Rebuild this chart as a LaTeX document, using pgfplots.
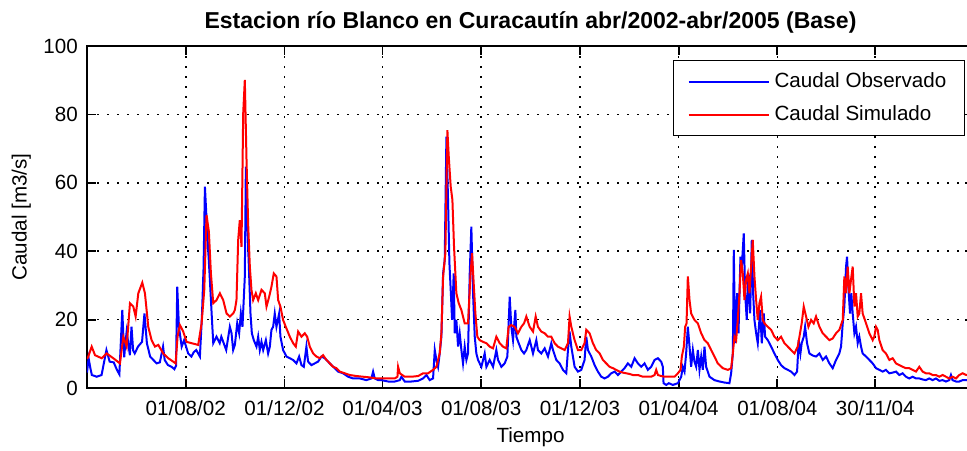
\documentclass[border=0pt]{standalone}
\usepackage{fontspec}
\setmainfont{Liberation Sans}
\usepackage{pgfplots}
\pgfplotsset{compat=1.18}
\newcommand{\lblfont}{\fontsize{10.3}{12}\selectfont}
\begin{document}
\begin{tikzpicture}
\begin{axis}[
  at={(0,0)}, anchor=south west,
  scale only axis,
  width=443.5pt, height=171pt,
  xmin=0, xmax=1096, ymin=0, ymax=100,
  xtick={122,244,365,487,609,731,853,974},
  xticklabels={01/08/02,01/12/02,01/04/03,01/08/03,01/12/03,01/04/04,01/08/04,30/11/04},
  ytick={0,20,40,60,80,100},
  /pgf/number format/assume math mode=true,
  tick label style={font=\lblfont},
  xticklabel style={yshift=-3pt},
  yticklabel style={xshift=-1.1pt},
  grid=major,
  major grid style={black, line width=0.85pt, dash pattern=on 0.85pt off 4.15pt},
  tick align=inside,
  major tick length=4.5pt,
  axis line style={black, line width=0.9pt},
  every tick/.style={black, line width=0.9pt},
  title={Estacion río Blanco en Curacautín abr/2002-abr/2005 (Base)},
  title style={at={(axis description cs:0.5,1.0702)}, anchor=center, yshift=-6pt, font=\bfseries\fontsize{11.5}{13}\selectfont},
  xlabel={Tiempo},
  ylabel={Caudal [m3/s]},
  every axis x label/.style={at={(axis description cs:0.5,-0.1433)}, anchor=center, font=\lblfont},
  every axis y label/.style={at={(axis description cs:-0.074,0.5)}, rotate=90, anchor=center, font=\lblfont},
  legend cell align=left,
  legend image code/.code={\draw[#1] (0pt,0pt) -- (40pt,0pt);},
  legend style={at={(0.98985,0.95906)}, anchor=north east, draw=black, line width=0.7pt, fill=white,
    font=\lblfont, inner xsep=7pt, inner ysep=4pt, row sep=3.5pt, column sep=0.5pt,
    nodes={inner sep=2pt, text height=7.5pt, text depth=1.5pt}},
]
\addplot[blue, line width=1pt] coordinates {
(0,4.5)(2,8.7)(4,6.0)(6,3.8)(12,3.3)(18,3.8)(24,11.1)(28,7.7)(33,7.5)(37,5.3)(40,4.0)(43.6,22.8)(46,9.0)(47,12.1)(49,16.5)(53,9.6)(55,17.9)(57,11.0)(59,10.1)(63,12.1)(68,13.5)(71,21.8)(74,13.1)(78,9.2)(82,8.2)(86,7.2)(90,7.5)(94,12.1)(96,8.2)(100,6.7)(104.5,6.2)(108,5.5)(110,6.5)(111.5,29.6)(113.6,17.9)(117,12.1)(120,14.0)(125,10.1)(129,9.2)(132,10.5)(135,11.1)(139.5,9.2)(142,20.9)(144,35)(145.7,58.9)(148.6,45.2)(151.4,33.5)(154,21.8)(156,13.1)(160,15.0)(164,13.1)(166,15.0)(172,11.1)(176.5,17.9)(178.6,16.0)(180.6,11.1)(182.7,12.6)(185.6,18.9)(188,16.0)(190.1,21.8)(192.1,17.9)(195,32.6)(196.3,64.7)(197.9,49.1)(200,35.5)(202,21.8)(203.7,16.0)(206.1,14.0)(209.4,12.1)(211.5,15.0)(213.5,11.1)(215.6,13.5)(217.7,11.1)(221,14.0)(223.8,10.1)(225.9,12.1)(227.9,17.0)(230,17.9)(232,21.8)(234.1,17.9)(237.4,21.8)(239,15.0)(242.3,11.1)(246.5,9.2)(250.6,8.7)(254.7,8.2)(258.8,7.2)(262.1,9.2)(265,6.7)(267.9,6.2)(271.1,12.1)(273.2,7.7)(277.3,6.7)(281.4,7.2)(285.5,7.7)(289.7,9.2)(293.8,8.7)(297.9,7.7)(302,6.7)(306.1,5.8)(310.2,4.8)(316.4,4.3)(322.6,3.3)(328.8,2.8)(337,2.8)(345.2,2.3)(351.4,2.8)(353.5,4.8)(355.5,2.8)(359.6,2.3)(363.8,2.3)(372.1,1.9)(380.3,1.9)(386.5,2.3)(388.5,3.3)(392.6,1.9)(400.9,1.9)(409.1,2.1)(415.3,2.8)(419.4,3.8)(423.5,2.3)(427.6,2.8)(429.7,11.1)(431.7,8.2)(433.8,6.2)(435.8,10.1)(437.9,15.0)(440,33.5)(442,37.4)(444.1,73.5)(446.1,55.0)(447.8,36.5)(449.4,28.7)(451.1,19.9)(453.1,33.5)(454.4,16.0)(456.4,19.9)(458.5,12.1)(460.5,16.0)(462.6,11.1)(464.6,7.2)(466.7,12.1)(468.8,8.2)(470.8,10.1)(472.9,33.5)(474.9,47.2)(477,27.7)(479.1,15.0)(481.1,10.1)(483.2,8.2)(485.2,7.2)(487.3,6.2)(491.4,10.1)(493.5,6.2)(497.6,8.2)(501.7,6.2)(505.8,11.1)(507.9,8.2)(512,6.2)(516.1,7.2)(519.4,9.2)(522.3,26.7)(524.3,17.9)(526.4,14.0)(529.3,22.8)(530.5,15.0)(533.4,13.1)(536.7,11.1)(540,10.1)(542.8,11.1)(547,14.0)(551.1,10.1)(555.2,14.0)(557.2,11.1)(561.3,10.1)(565.5,11.6)(569.6,9.2)(573.7,13.1)(575.8,11.1)(579.9,8.2)(584,7.2)(588.1,5.3)(592.2,4.3)(594.3,11.1)(596.3,16.5)(598.4,12.1)(602.5,6.2)(606.6,4.8)(610.7,5.3)(614.8,8.2)(616.9,15.0)(619,11.1)(623.1,9.2)(627.2,6.7)(631.3,4.8)(635.4,3.3)(639.5,2.8)(643.6,3.3)(647.8,4.3)(651.9,4.8)(656,3.8)(660.1,4.8)(664.2,5.8)(668.3,7.2)(672.5,6.2)(676.6,8.7)(680.7,7.2)(684.8,6.2)(688.9,7.2)(693,5.3)(697.1,6.2)(701.3,8.2)(705.4,8.7)(709.5,7.7)(711.5,6.2)(712.4,1.4)(715.7,0.9)(718.9,1.4)(723.9,0.9)(730.1,1.4)(734.2,3.3)(736.2,6.2)(738.3,4.8)(740.3,10.1)(742.4,17.9)(744.5,12.1)(746.5,6.2)(748.6,11.1)(750.6,7.7)(752.7,6.2)(754.8,11.1)(756.8,5.3)(758.9,9.2)(760.9,5.3)(763,12.1)(765,6.2)(769.2,3.3)(775.3,2.3)(781.5,1.9)(787.7,1.6)(793.8,1.4)(795.9,4.3)(798,10.1)(799.2,40.4)(800.8,13.1)(803.3,27.7)(805,16.0)(807.4,38.4)(809.1,35.5)(811.5,45.2)(813.2,27.7)(815.2,19.9)(817.3,33.5)(819.4,21.8)(821.4,43.3)(823.1,27.7)(824.7,19.9)(826.8,16.0)(828.8,13.1)(831.7,22.8)(833.8,13.1)(836.2,21.8)(837.9,15.0)(841.2,14.0)(845.3,12.1)(849.4,10.1)(853.5,8.2)(857.6,6.7)(861.7,5.8)(865.9,5.3)(870,4.8)(874.1,3.8)(877.4,4.8)(879.4,14.0)(881.5,10.1)(883.1,13.1)(885.6,15.0)(887.3,17.9)(889.7,13.1)(892.6,10.1)(896.7,9.5)(900.8,9.2)(905,10.1)(909.1,8.2)(913.2,9.2)(917.3,7.2)(921.4,5.8)(925.5,8.2)(929.6,10.1)(931.7,12.1)(933.8,18.9)(935.8,23.8)(937.9,35.5)(939.1,38.4)(941.2,27.7)(942.8,21.8)(944.4,27.7)(946.1,21.8)(948.2,16.0)(950.2,17.9)(952.3,13.1)(954.3,15.0)(956.4,12.1)(958.4,10.1)(962.6,9.2)(966.7,8.2)(970.8,7.2)(974.9,5.8)(979,5.3)(983.1,4.8)(987.2,5.3)(991.4,4.3)(995.5,4.5)(999.6,4.8)(1003.7,3.8)(1007.8,4.3)(1011.9,3.3)(1016,2.8)(1020.2,3.3)(1024.3,2.8)(1028.4,2.8)(1032.5,2.5)(1036.6,2.3)(1040.7,2.8)(1044.9,2.3)(1049,2.8)(1053.1,2.1)(1057.2,2.3)(1061.3,1.9)(1065.4,2.3)(1067.5,3.8)(1069.5,2.3)(1073.7,1.9)(1077.8,1.9)(1081.9,2.3)(1086.4,2.3)(1095,2.0)
};
\addlegendentry{Caudal Observado}
\addplot[red, line width=1pt] coordinates {
(0,8.5)(1.6,9.2)(5.8,12.1)(9.9,9.6)(18.1,8.7)(24.3,10.1)(32.5,8.7)(40.7,7.2)(44.9,15.0)(49,12.1)(53.1,24.8)(57.2,23.8)(60.1,20.9)(63.4,27.7)(68.3,30.8)(71.6,27.7)(75.7,17.9)(79.8,14.0)(84,12.1)(88.1,12.6)(94.2,10.1)(100.4,8.7)(106.6,7.7)(109.5,7.2)(111.9,15.0)(114.8,18.4)(118.9,16.5)(123,13.5)(129.2,13.1)(137.4,12.6)(141.6,18.9)(144.9,28.7)(147.7,50.6)(150.6,45.7)(153.1,33.5)(156,24.8)(160.1,25.7)(164.2,27.7)(168.3,25.7)(172.4,21.8)(176.5,20.9)(180.6,21.8)(182.7,22.8)(184.7,25.7)(186.8,43.3)(188.8,49.1)(190.9,41.3)(193,80.3)(195,90.1)(197.1,66.7)(199.1,48.1)(201.2,35.5)(203.2,28.7)(205.3,25.7)(208.6,27.7)(211.5,25.7)(215.6,28.7)(219.7,27.7)(221.8,23.8)(225.1,26.7)(227.9,29.6)(230.8,33.5)(234.1,32.6)(236.2,25.7)(239,23.8)(242.3,19.9)(245.6,17.9)(250.6,15.0)(254.7,13.1)(258,12.1)(260.9,16.5)(265,15.0)(269.1,16.0)(272,15.0)(275.3,12.1)(279.4,10.1)(283.5,9.2)(287.6,8.7)(291.7,9.6)(295.8,8.2)(300,7.2)(304.1,6.2)(308.2,5.8)(312.3,4.8)(318.5,4.3)(324.6,3.8)(332.9,3.5)(341.1,3.3)(349.3,3.1)(357.6,2.8)(363.8,2.8)(372.1,2.8)(380.3,2.8)(383.6,3.3)(384.4,6.2)(386.5,4.3)(392.6,3.3)(400.9,3.3)(409.1,3.5)(415.3,4.3)(421.4,4.3)(427.6,5.3)(431.7,6.2)(435.8,10.1)(437.9,16.0)(440,32.6)(442.8,39.4)(445.3,75.4)(447,67.6)(449.4,58.9)(451.5,55.0)(453.5,41.3)(456.4,27.7)(459.3,24.8)(462.6,22.8)(466.7,18.9)(470.8,18.9)(473.7,32.6)(475.8,39.4)(477.8,30.6)(479.9,21.8)(482.3,15.0)(485.2,14.0)(489.3,13.5)(493.5,13.1)(497.6,12.1)(501.7,11.6)(505.8,15.0)(509.9,13.1)(514,12.1)(518.1,11.6)(521,17.9)(524.3,18.4)(528.4,17.9)(532.5,16.0)(536.7,17.9)(540,18.9)(542.8,20.9)(547,17.9)(551.1,16.5)(554.4,20.9)(557.2,17.9)(561.3,16.5)(565.5,16.0)(569.6,15.0)(573.7,15.0)(577.8,13.1)(581.9,12.1)(586,11.6)(590.2,11.1)(594.3,13.1)(596.3,20.9)(598.4,17.9)(602.5,14.0)(606.6,11.1)(610.7,11.1)(614.8,13.1)(616.9,17.0)(621,16.0)(625.1,13.1)(629.2,11.1)(633.4,10.1)(637.5,8.2)(641.6,7.2)(645.7,6.2)(649.8,5.8)(653.9,5.3)(658,4.8)(662.2,4.5)(666.3,4.3)(670.4,4.1)(674.5,3.8)(680.7,3.8)(686.9,3.3)(697.1,3.3)(701.3,3.8)(703.3,5.3)(705.4,3.8)(709.5,3.5)(713.6,3.3)(719.8,3.3)(726,3.3)(730.1,4.3)(733.4,5.3)(735,9.2)(737.5,12.1)(739.1,17.9)(740.8,18.9)(742.4,32.6)(744.5,25.7)(746.5,21.8)(750.6,19.9)(754.8,18.9)(758.9,16.0)(763,14.0)(767.1,13.1)(771.2,11.1)(775.3,9.2)(779.4,7.2)(785.6,5.8)(791.8,5.3)(795.9,5.8)(798,10.1)(800,15.0)(802.1,14.0)(804.1,19.9)(806.2,27.7)(808.2,37.4)(810.3,33.5)(812.4,25.7)(814.4,31.6)(816.5,33.5)(818.5,27.7)(820.6,35.5)(822.6,43.3)(824.7,32.6)(826.8,25.7)(828.8,19.9)(830.9,24.8)(832.9,26.7)(835,19.9)(837.1,18.9)(841.2,17.9)(845.3,17.0)(849.4,15.0)(853.5,14.0)(857.6,15.0)(861.7,13.1)(865.9,12.1)(870,11.1)(874.1,10.1)(878.2,12.1)(880.3,15.0)(883.1,18.9)(885.6,23.8)(888.5,20.9)(891.4,17.9)(894.7,19.9)(897.9,18.9)(900.8,20.9)(905,17.9)(909.1,16.0)(913.2,15.0)(917.3,14.0)(921.4,14.5)(925.5,16.0)(929.6,17.0)(933.8,19.9)(935.8,32.6)(937.9,27.7)(939.9,35.5)(942,27.7)(944,31.6)(946.1,35.5)(948.2,23.8)(950.2,27.7)(952.3,20.9)(954.3,21.8)(956.4,27.7)(958.4,21.8)(962.6,18.9)(966.7,16.0)(970.8,14.0)(972.8,15.0)(974.9,17.9)(977,17.0)(979,14.0)(983.1,11.1)(987.2,10.1)(991.4,8.2)(995.5,8.7)(999.6,7.2)(1003.7,6.7)(1007.8,6.2)(1011.9,5.8)(1016,5.8)(1020.2,5.3)(1024.3,4.8)(1028.4,6.2)(1032.5,4.8)(1036.6,4.3)(1040.7,4.3)(1044.9,3.8)(1049,3.8)(1053.1,3.3)(1057.2,3.8)(1061.3,3.3)(1065.4,2.8)(1069.5,3.3)(1073.7,2.8)(1077.8,3.8)(1081.9,4.3)(1086.4,3.8)(1095,4.0)
};
\addlegendentry{Caudal Simulado}
\end{axis}
\pgfresetboundingbox
\useasboundingbox (-43.5pt,-31pt) rectangle (440pt,194pt);
\end{tikzpicture}
\end{document}
